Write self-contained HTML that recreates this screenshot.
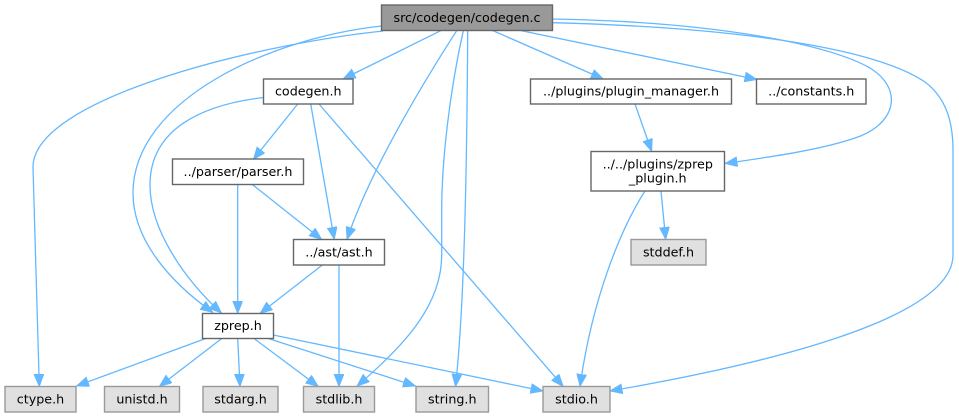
<!DOCTYPE html>
<html>
<head>
<meta charset="utf-8">
<style>
  html, body { margin: 0; padding: 0; background: #ffffff; }
  svg { display: block; }
  text { font-family: "DejaVu Sans", "Liberation Sans", sans-serif; font-size: 12.7px; fill: #000; text-anchor: middle; }
</style>
</head>
<body>
<svg width="959" height="417" viewBox="0 0 959 417" xmlns="http://www.w3.org/2000/svg">
  <defs>
    <marker id="ah" markerUnits="userSpaceOnUse" markerWidth="16" markerHeight="14" refX="12.5" refY="5" orient="auto">
      <path d="M0,0 L12.5,5 L0,10 z" fill="#63b8ff" stroke="#63b8ff" stroke-width="0.8"/>
    </marker>
  </defs>
  <rect x="0" y="0" width="959" height="417" fill="#ffffff"/>

  <g fill="none" stroke="#63b8ff" stroke-width="1.3" marker-end="url(#ah)">
    <!-- root edges -->
    <path d="M440.7,30.7 L343,79"/>
    <path d="M493,30.7 L603.3,79"/>
    <path d="M521.7,30.7 L757,79.5"/>
    <path d="M552.7,19 C720,22 830,45 870,68 C905,90 895,125 855,138 C820,150 770,157 725,163.5"/>
    <path d="M456.7,30.7 C425,80 370,170 347,239.5"/>
    <path d="M381.7,26 C270,38 133,100 133,193 C133,240 170,282 213,312.5"/>
    <path d="M383,31 C250,45 33,100 33,167 L39.3,386.5"/>
    <path d="M463.3,30.7 C450,90 441.7,160 441.7,210 L441.7,255 C441.7,305 405,345 357,386"/>
    <path d="M467.7,30.7 C467,150 465,300 455.5,386.5"/>
    <path d="M552.7,22.7 C720,27 870,45 925,82 C945,97 953,120 953,150 L953,255 C953,320 760,365 610,391"/>
    <!-- codegen.h edges -->
    <path d="M297.7,104 L253.3,159.5"/>
    <path d="M310.7,104 L334.3,239.5"/>
    <path d="M319,104 L563.3,386.5"/>
    <path d="M263.5,97.5 C200,105 150,130 150,185 C150,230 185,280 221.5,313"/>
    <!-- parser.h edges -->
    <path d="M237.7,184.5 L237.7,313.5"/>
    <path d="M252.3,184.5 L321.7,239.5"/>
    <!-- plugin edges -->
    <path d="M635,104 L651.7,151.5"/>
    <path d="M661,191 L665.7,239.5"/>
    <path d="M645,191 C620,230 592,300 580,386.5"/>
    <!-- ast.h edges -->
    <path d="M322.3,265 L260,313.5"/>
    <path d="M339,265 L339,386.5"/>
    <!-- zprep.h edges -->
    <path d="M205.7,338.5 L76.5,386"/>
    <path d="M221.7,338.5 L159.3,386.5"/>
    <path d="M237.7,338.5 L240,386.5"/>
    <path d="M254,338.5 L318.3,386.5"/>
    <path d="M268.3,338.5 L415.5,386"/>
    <path d="M273.3,335 L543,391"/>
  </g>

  <!-- nodes -->
  <g stroke-width="1.4">
    <rect x="381.5" y="5" width="171" height="25.5" fill="#999999" stroke="#666666"/>
    <rect x="263.5" y="79" width="89.5" height="25" fill="#ffffff" stroke="#666666"/>
    <rect x="172.5" y="159" width="131" height="25.5" fill="#ffffff" stroke="#666666"/>
    <rect x="530.5" y="79" width="201" height="25" fill="#ffffff" stroke="#666666"/>
    <rect x="756.5" y="79" width="109.5" height="25" fill="#ffffff" stroke="#666666"/>
    <rect x="591" y="151.5" width="133.5" height="39.5" fill="#ffffff" stroke="#666666"/>
    <rect x="293.5" y="239.5" width="91" height="25.5" fill="#ffffff" stroke="#666666"/>
    <rect x="631" y="239.5" width="75" height="25.5" fill="#e0e0e0" stroke="#999999"/>
    <rect x="202.5" y="313.5" width="71" height="25" fill="#ffffff" stroke="#666666"/>
    <rect x="5" y="386.5" width="71" height="25.5" fill="#e0e0e0" stroke="#999999"/>
    <rect x="104.5" y="386.5" width="75" height="25.5" fill="#e0e0e0" stroke="#999999"/>
    <rect x="203" y="386.5" width="75" height="25.5" fill="#e0e0e0" stroke="#999999"/>
    <rect x="303.5" y="386.5" width="71" height="25.5" fill="#e0e0e0" stroke="#999999"/>
    <rect x="416" y="386.5" width="72.5" height="25.5" fill="#e0e0e0" stroke="#999999"/>
    <rect x="543" y="386.5" width="67" height="25.5" fill="#e0e0e0" stroke="#999999"/>
  </g>

  <!-- labels -->
  <text x="467" y="22">src/codegen/codegen.c</text>
  <text x="308.25" y="95.5">codegen.h</text>
  <text x="238" y="175.75">../parser/parser.h</text>
  <text x="631" y="95.5">../plugins/plugin_manager.h</text>
  <text x="811.25" y="95.5">../constants.h</text>
  <text x="657.75" y="168.5">../../plugins/zprep</text>
  <text x="657.75" y="182.5">_plugin.h</text>
  <text x="339" y="256.25">../ast/ast.h</text>
  <text x="668.5" y="256.25">stddef.h</text>
  <text x="238" y="330">zprep.h</text>
  <text x="40.5" y="403.25">ctype.h</text>
  <text x="142" y="403.25">unistd.h</text>
  <text x="240.5" y="403.25">stdarg.h</text>
  <text x="339" y="403.25">stdlib.h</text>
  <text x="452.25" y="403.25">string.h</text>
  <text x="576.5" y="403.25">stdio.h</text>
</svg>
</body>
</html>
